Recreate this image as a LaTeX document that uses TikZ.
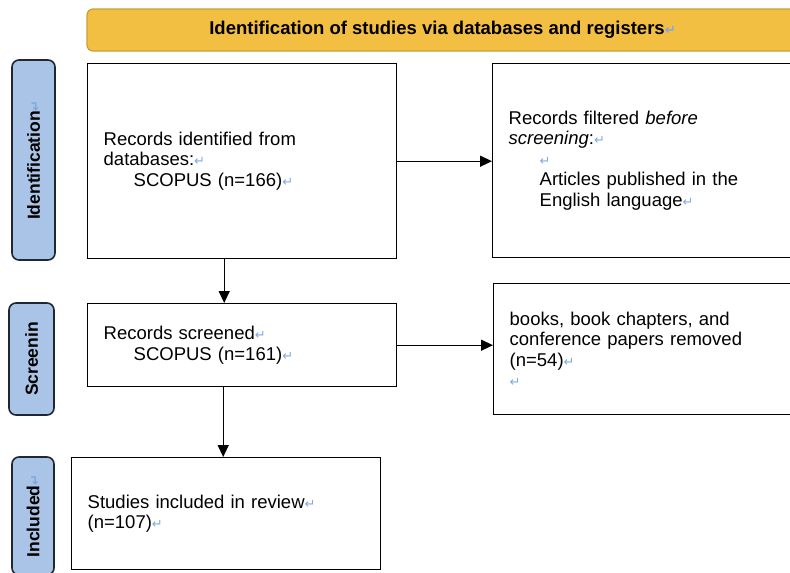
\documentclass[tikz,border=0pt]{standalone}
\usepackage{fontspec}
\setmainfont{Liberation Sans}
\newfontfamily\arrowfont{DejaVu Sans}
\usetikzlibrary{positioning, calc, arrows.meta}
\definecolor{Banner}{HTML}{F3BF42}
\definecolor{BannerEdge}{HTML}{C9A035}
\definecolor{Side}{HTML}{A9C4E6}
\definecolor{SideEdge}{HTML}{1E2733}
\definecolor{Mark}{HTML}{7FA8E2}
\newcommand{\pmk}{{\arrowfont\fontsize{13}{13}\selectfont\textcolor{Mark}{↵}}}
\tikzset{
    box/.style={rectangle, draw=black, line width=1.4pt, align=left, inner xsep=16pt, inner ysep=0pt, anchor=north west, font=\fontsize{18.5}{20.5}\selectfont},
    sidebox/.style={rectangle, rounded corners=7pt, draw=SideEdge, line width=1.6pt, fill=Side, rotate=90, inner sep=0pt, font=\bfseries\fontsize{17.5}{17.5}\selectfont},
    banner/.style={rectangle, rounded corners=6pt, draw=BannerEdge, line width=1.2pt, fill=Banner, font=\bfseries\fontsize{18.5}{20}\selectfont},
    arrow/.style={-{Triangle[length=12pt,width=11pt]}, line width=1.3pt, black},
}
\begin{document}
\begin{tikzpicture}[x=1pt, y=-1pt]
    \useasboundingbox (0,0) rectangle (790,573);
    \clip (0,0) rectangle (790,573);

    % Intestazione
    \node[banner, minimum width=711pt, minimum height=42pt] (head) at (442.5,30) {Identification of studies via databases and registers\pmk};

    % Fasi (etichette laterali)
    \node[sidebox, minimum width=200pt, minimum height=43pt] (lblid) at (33.5,160) {Identification\pmk};
    \node[sidebox, minimum width=112pt, minimum height=45pt] (lblscr) at (31.5,359) {Screenin};
    \node[sidebox, minimum width=118pt, minimum height=42pt] (lblinc) at (33,516) {Included\pmk};

    % Identificazione
    \node[box, text width=277pt, minimum height=195pt] (rec) at (87,63) {Records identified from\\ databases:\pmk\\ \hspace*{30pt}SCOPUS (n=166)\pmk};
    \node[box, text width=277pt, minimum height=194pt] (filt) at (492,63) {Records filtered \textit{before}\\ \textit{screening}:\pmk\\ \hspace*{31pt}\pmk\\ \hspace*{31pt}Articles published in the\\ \hspace*{31pt}English language\pmk};

    % Screening
    \node[box, text width=277pt, minimum height=83pt] (scr) at (87,303) {Records screened\pmk\\ \hspace*{30pt}SCOPUS (n=161)\pmk};
    \node[box, text width=277pt, minimum height=131pt] (rem) at (493,283) {books, book chapters, and\\ conference papers removed\\ (n=54)\pmk\\ \pmk};

    % Inclusi
    \node[box, text width=277pt, minimum height=112pt] (inc) at (71,457) {Studies included in review\pmk\\ (n=107)\pmk};

    % Frecce
    \draw[arrow] (rec.east) -- (rec.east -| filt.west);
    \draw[arrow] (scr.east) -- (scr.east -| rem.west);
    \draw[arrow] ([xshift=-18pt]rec.south) -- ([xshift=-18pt]rec.south |- scr.north);
    \draw[arrow] ([xshift=-19pt]scr.south) -- ([xshift=-19pt]scr.south |- inc.north);
\end{tikzpicture}
\end{document}
